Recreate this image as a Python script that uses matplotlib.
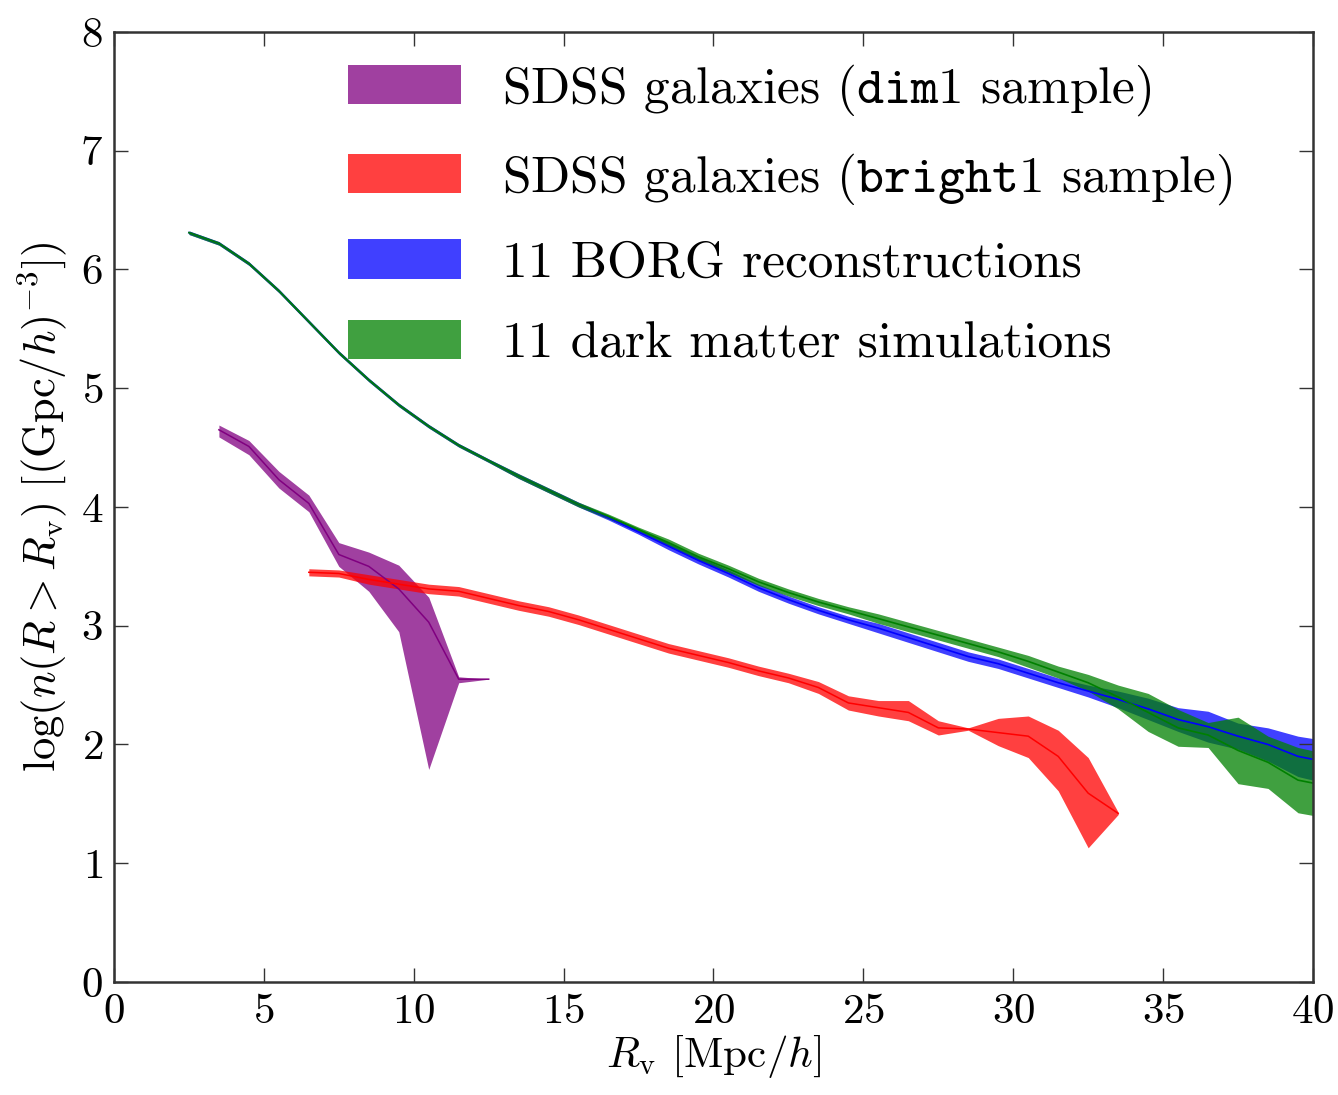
import matplotlib
matplotlib.use('Agg')
import matplotlib.pyplot as plt

plt.rcParams['font.family'] = 'cmr10'
plt.rcParams['mathtext.fontset'] = 'cm'
plt.rcParams['axes.formatter.use_mathtext'] = True

# SDSS dim1 sample
dim_r = [3.5, 4.5, 5.5, 6.5, 7.5, 8.5, 9.5, 10.5, 11.5, 12.5]
dim_mid = [4.65, 4.51, 4.23, 4.03, 3.60, 3.50, 3.31, 3.03, 2.55, 2.55]
dim_hi = [4.69, 4.56, 4.30, 4.10, 3.70, 3.62, 3.51, 3.24, 2.57, 2.55]
dim_lo = [4.59, 4.44, 4.16, 3.96, 3.50, 3.29, 2.95, 1.79, 2.52, 2.55]

# SDSS bright1 sample
bright_r = [6.5, 7.5, 8.5, 9.5, 10.5, 11.5, 12.5, 13.5, 14.5, 15.5, 16.5, 17.5, 18.5, 19.5,
            20.5, 21.5, 22.5, 23.5, 24.5, 25.5, 26.5, 27.5, 28.5, 29.5, 30.5, 31.5, 32.5, 33.5]
bright_mid = [3.45, 3.44, 3.39, 3.35, 3.31, 3.29, 3.23, 3.17, 3.12, 3.05, 2.97, 2.89, 2.81, 2.75,
              2.69, 2.62, 2.56, 2.48, 2.35, 2.31, 2.27, 2.14, 2.13, 2.10, 2.07, 1.90, 1.59, 1.42]
bright_hi = [3.48, 3.47, 3.43, 3.39, 3.35, 3.33, 3.27, 3.21, 3.16, 3.09, 3.01, 2.93, 2.85, 2.79,
             2.73, 2.66, 2.60, 2.53, 2.41, 2.37, 2.37, 2.20, 2.14, 2.22, 2.24, 2.12, 1.89, 1.43]
bright_lo = [3.42, 3.41, 3.35, 3.31, 3.27, 3.25, 3.19, 3.13, 3.08, 3.01, 2.93, 2.85, 2.77, 2.71,
             2.65, 2.58, 2.52, 2.43, 2.29, 2.24, 2.20, 2.08, 2.12, 1.99, 1.89, 1.61, 1.13, 1.41]

# BORG reconstructions and dark matter simulations
sim_r = [2.5, 3.5, 4.5, 5.5, 6.5, 7.5, 8.5, 9.5, 10.5, 11.5, 12.5, 13.5, 14.5, 15.5, 16.5,
         17.5, 18.5, 19.5, 20.5, 21.5, 22.5, 23.5, 24.5, 25.5, 26.5, 27.5, 28.5, 29.5, 30.5,
         31.5, 32.5, 33.5, 34.5, 35.5, 36.5, 37.5, 38.5, 39.5, 40.5]
borg_mid = [6.31, 6.22, 6.05, 5.82, 5.56, 5.30, 5.07, 4.86, 4.68, 4.52, 4.39, 4.26, 4.14, 4.02,
            3.91, 3.79, 3.67, 3.55, 3.44, 3.32, 3.22, 3.13, 3.05, 2.98, 2.90, 2.82, 2.74, 2.68,
            2.60, 2.52, 2.45, 2.38, 2.30, 2.21, 2.15, 2.07, 2.00, 1.90, 1.85]
borg_err = [0.015, 0.015, 0.015, 0.015, 0.015, 0.015, 0.015, 0.015, 0.015, 0.015, 0.015, 0.02,
            0.02, 0.02, 0.02, 0.02, 0.03, 0.03, 0.03, 0.03, 0.03, 0.03, 0.03, 0.04, 0.04, 0.04,
            0.04, 0.04, 0.04, 0.04, 0.05, 0.07, 0.09, 0.10, 0.13, 0.11, 0.14, 0.17, 0.18]
dm_mid = [6.31, 6.22, 6.05, 5.82, 5.56, 5.30, 5.07, 4.86, 4.68, 4.52, 4.39, 4.26, 4.14, 4.02,
          3.92, 3.81, 3.70, 3.58, 3.48, 3.37, 3.28, 3.20, 3.13, 3.06, 2.99, 2.92, 2.85, 2.78,
          2.70, 2.61, 2.52, 2.40, 2.27, 2.14, 2.08, 1.95, 1.85, 1.70, 1.65]
dm_err = [0.015, 0.015, 0.015, 0.015, 0.015, 0.015, 0.015, 0.015, 0.015, 0.015, 0.015, 0.02,
          0.02, 0.02, 0.02, 0.02, 0.03, 0.03, 0.03, 0.03, 0.03, 0.03, 0.03, 0.04, 0.04, 0.04,
          0.04, 0.04, 0.05, 0.05, 0.07, 0.10, 0.16, 0.155, 0.105, 0.28, 0.22, 0.275, 0.27]

borg_lo = [m - e for m, e in zip(borg_mid, borg_err)]
borg_hi = [m + e for m, e in zip(borg_mid, borg_err)]
dm_lo = [m - e for m, e in zip(dm_mid, dm_err)]
dm_hi = [m + e for m, e in zip(dm_mid, dm_err)]

fig = plt.figure(figsize=(13.38, 10.95), dpi=100)
ax = fig.add_axes([0.0852, 0.1032, 0.8961, 0.8676])

ax.fill_between(dim_r, dim_lo, dim_hi, color='purple', alpha=0.75, lw=0,
                label=r'SDSS galaxies ($\mathtt{dim1}$ sample)')
ax.plot(dim_r, dim_mid, color='purple', lw=1.1)
ax.fill_between(bright_r, bright_lo, bright_hi, color='red', alpha=0.75, lw=0,
                label=r'SDSS galaxies ($\mathtt{bright1}$ sample)')
ax.plot(bright_r, bright_mid, color='red', lw=1.1)
ax.fill_between(sim_r, borg_lo, borg_hi, color='blue', alpha=0.75, lw=0,
                label='11 BORG reconstructions')
ax.fill_between(sim_r, dm_lo, dm_hi, color='green', alpha=0.75, lw=0,
                label='11 dark matter simulations')
ax.plot(sim_r, borg_mid, color='blue', lw=1.2)
ax.plot(sim_r, dm_mid, color='green', lw=1.2)

ax.set_xlim(0, 40)
ax.set_ylim(0, 8)
ax.set_xticks(range(0, 41, 5))
ax.set_yticks(range(0, 9))
ax.tick_params(direction='in', top=True, right=True, length=10, width=1,
               labelsize=31, pad=8, color='#333333')
for s in ax.spines.values():
    s.set_linewidth(1.8)
    s.set_color('#333333')

ax.set_xlabel(r'$R_{\mathrm{v}}$ [Mpc/$h$]', fontsize=31, labelpad=2)
ax.set_ylabel(r'$\log(n(R > R_{\mathrm{v}})\ [(\mathrm{Gpc}/h)^{-3}])$', fontsize=32, labelpad=8)

ax.legend(loc='upper left', bbox_to_anchor=(0.195, 0.968), frameon=False, fontsize=37,
          borderaxespad=0, borderpad=0,
          handlelength=2.2, handleheight=0.8, handletextpad=0.8, labelspacing=0.64)

fig.savefig('out.png', dpi=100)
